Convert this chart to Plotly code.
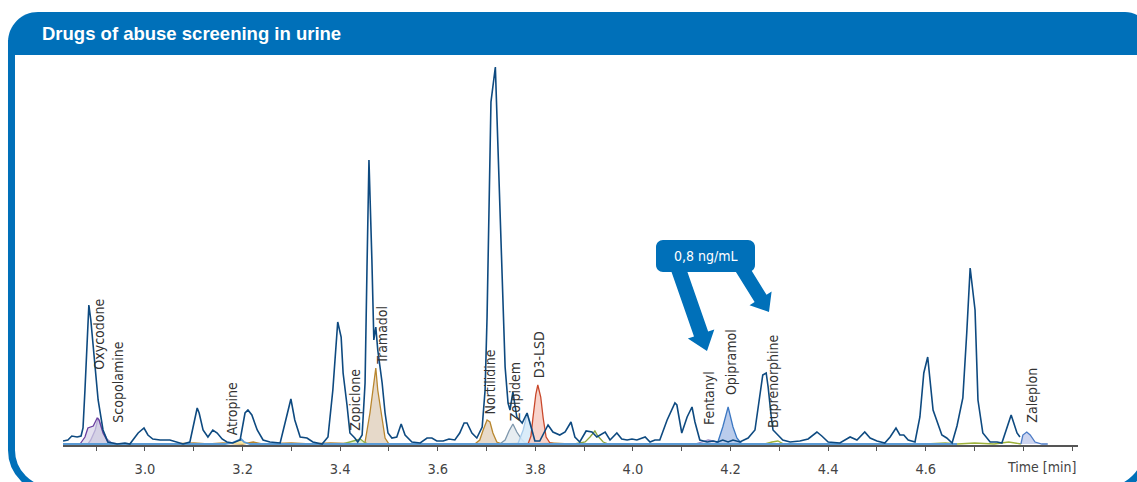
import math
import plotly.graph_objects as go

W, H = 1137, 482
BLUE = "#0070B9"
LABEL_FONT = "DejaVu Sans Condensed, Liberation Sans Narrow, sans-serif"

# ---------------- data (retention time [min], signal) ----------------
main_t = [2.832, 2.842, 2.850, 2.861, 2.869, 2.873, 2.877, 2.885, 2.889, 2.898,
          2.904, 2.914, 2.924, 2.943, 2.959, 2.969, 2.986, 2.998, 3.006, 3.016,
          3.031, 3.051, 3.066, 3.078, 3.092, 3.107, 3.111, 3.119, 3.129, 3.139,
          3.148, 3.158, 3.168, 3.180, 3.195, 3.205, 3.211, 3.219, 3.230, 3.242,
          3.256, 3.277, 3.287, 3.299, 3.307, 3.318, 3.332, 3.344, 3.363, 3.375,
          3.385, 3.395, 3.402, 3.406, 3.414, 3.420, 3.430, 3.436, 3.445, 3.451,
          3.455, 3.459, 3.465, 3.469, 3.473, 3.477, 3.486, 3.492, 3.498, 3.506,
          3.516, 3.525, 3.533, 3.547, 3.564, 3.578, 3.588, 3.598, 3.611, 3.623,
          3.635, 3.645, 3.654, 3.660, 3.670, 3.680, 3.691, 3.697, 3.701, 3.707,
          3.709, 3.718, 3.725, 3.732, 3.738, 3.744, 3.748, 3.754, 3.762, 3.773,
          3.783, 3.793, 3.799, 3.809, 3.826, 3.836, 3.850, 3.861, 3.873, 3.881,
          3.891, 3.904, 3.916, 3.926, 3.943, 3.953, 3.967, 3.977, 3.988, 3.998,
          4.008, 4.025, 4.035, 4.045, 4.055, 4.070, 4.086, 4.090, 4.100, 4.111,
          4.121, 4.127, 4.137, 4.152, 4.164, 4.174, 4.184, 4.195, 4.205, 4.219,
          4.236, 4.250, 4.260, 4.266, 4.273, 4.277, 4.283, 4.287, 4.297, 4.307,
          4.322, 4.342, 4.359, 4.377, 4.387, 4.400, 4.424, 4.445, 4.459, 4.475,
          4.486, 4.500, 4.516, 4.527, 4.539, 4.547, 4.555, 4.564, 4.578, 4.588,
          4.596, 4.604, 4.615, 4.633, 4.643, 4.654, 4.664, 4.676, 4.684, 4.691,
          4.701, 4.707, 4.717, 4.732, 4.746, 4.756, 4.775, 4.787, 4.793]
main_y = [3, 4, 8, 7, 8, 16, 54, 139, 124, 77,
          44, 14, 2, 0, 1, 0, 11, 16, 9, 5,
          4, 4, 2, 0, 2, 36, 31, 14, 7, 14,
          11, 5, 2, 1, 4, 31, 34, 29, 14, 4,
          2, 1, 21, 45, 24, 7, 6, 2, 0, 7,
          54, 122, 107, 71, 39, 11, 6, 2, 9, 61,
          177, 284, 184, 104, 117, 94, 61, 31, 11, 6,
          7, 20, 9, 2, 1, 6, 6, 3, 3, 5,
          4, 11, 21, 21, 11, 6, 17, 54, 127, 264,
          342, 377, 264, 161, 77, 41, 34, 52, 27, 21,
          31, 14, 3, 3, 19, 12, 9, 12, 22, 7,
          2, 13, 12, 7, 12, 4, 11, 5, 4, 5,
          4, 7, 2, 4, 4, 24, 41, 39, 11, 27,
          37, 22, 4, 2, 3, 2, 4, 2, 4, 2,
          6, 14, 47, 69, 71, 57, 29, 14, 9, 4,
          2, 3, 5, 12, 8, 2, 1, 7, 4, 12,
          6, 3, 1, 7, 16, 9, 9, 4, 2, 27,
          71, 87, 34, 9, 6, 1, 18, 46, 111, 176,
          134, 44, 11, 2, 2, 1, 29, 11, 7]

oxycodone_t = [2.867, 2.877, 2.883, 2.894, 2.902, 2.906, 2.914, 2.924, 2.932]
oxycodone_y = [0, 7, 16, 18, 26, 24, 11, 2, 0]
scopolamine_t = [2.883, 2.889, 2.898, 2.904, 2.912, 2.922, 2.932, 2.945]
scopolamine_y = [0, 4, 14, 26, 15, 5, 1, 0]
atropine_t = [2.830, 3.164, 3.178, 3.191, 3.197, 3.203, 3.215, 4.664]
atropine_y = [0, 0, 1, 4, 5, 2, 0, 0]
zopiclone_t = [3.405, 3.420, 3.430, 3.441, 3.449, 3.457]
zopiclone_y = [0, 2, 4, 5, 2, 0]
tramadol_t = [3.050, 3.100, 3.130, 3.160, 3.200, 3.222, 3.240, 3.300, 3.340, 3.380,
              3.445, 3.451, 3.461, 3.467, 3.473, 3.477, 3.486, 3.492, 3.500, 3.560]
tramadol_y = [0, 1, 0, 1, 0, 2, 0, 1, 0, 1, 0, 2, 31, 54, 76, 54, 27, 6, 0, 0]
nortilidine_t = [3.676, 3.686, 3.693, 3.701, 3.707, 3.713, 3.721, 3.732, 3.780, 3.800, 3.830, 3.870]
nortilidine_y = [0, 4, 14, 24, 22, 11, 2, 0, 1, 0, 1, 0]
zolpidem_t = [3.727, 3.738, 3.746, 3.754, 3.762, 3.773, 3.781]
zolpidem_y = [0, 4, 13, 20, 12, 4, 0]
unknown_blue_t = [3.764, 3.775, 3.783, 3.791, 3.799]
unknown_blue_y = [0, 14, 30, 19, 0]
lsd_t = [3.785, 3.791, 3.795, 3.801, 3.805, 3.811, 3.816, 3.822, 3.830, 3.840]
lsd_y = [0, 8, 26, 50, 59, 47, 26, 7, 1, 0]
unknown_olive_t = [3.880, 3.902, 3.912, 3.922, 3.928, 3.939, 3.950]
unknown_olive_y = [0, 2, 7, 13, 8, 2, 0]
fentanyl_t = [4.120, 4.127, 4.141, 4.154, 4.166, 4.178, 4.200]
fentanyl_y = [0, 0, 2, 4, 3, 0, 0]
opipramol_t = [4.168, 4.174, 4.184, 4.195, 4.205, 4.213, 4.223]
opipramol_y = [0, 2, 17, 37, 17, 6, 0]
buprenorphine_t = [4.250, 4.270, 4.285, 4.297, 4.309, 4.400, 4.600, 4.640, 4.665, 4.700, 4.740, 4.770, 4.795]
buprenorphine_y = [0, 0, 2, 3, 0, 0, 0, 1, 0, 1, 0, 2, 0]
zaleplon_t = [4.795, 4.799, 4.807, 4.814, 4.824, 4.838, 4.850]
zaleplon_y = [0, 9, 12, 9, 2, 0, 0]

label_names = ["Oxycodone", "Scopolamine", "Atropine", "Zopiclone", "Tramadol", "Nortilidine",
               "Zolpidem", "D3-LSD", "Fentanyl", "Opipramol", "Buprenorphine", "Zaleplon"]
label_t = [2.904, 2.943, 3.178, 3.430, 3.484, 3.705, 3.758, 3.807, 4.156, 4.201, 4.287, 4.816]
label_y = [72, 19, 7, 11, 77, 27, 21, 64, 17, 47, 14, 19]

tick_vals = [2.9, 3.0, 3.1, 3.2, 3.3, 3.4, 3.5, 3.6, 3.7, 3.8, 3.9, 4.0, 4.1, 4.2, 4.3, 4.4, 4.5, 4.6, 4.7, 4.8, 4.9]
tick_text = ["", "3.0", "", "3.2", "", "3.4", "", "3.6", "", "3.8", "", "4.0", "", "4.2", "", "4.4",
             "", "4.6", "", "", ""]

title_text = "Drugs of abuse screening in urine"
callout_text = "0,8 ng/mL"
axis_title = "Time [min]"

# ---------------- figure ----------------
fig = go.Figure()


def add_peak(t, y, line, fill=None, width=1.3):
    fig.add_trace(go.Scatter(
        x=t, y=y, mode="lines",
        line=dict(color=line, width=width, shape="linear"),
        fill="tozeroy" if fill else None, fillcolor=fill,
        hoverinfo="skip", showlegend=False))


add_peak(scopolamine_t, scopolamine_y, "#9A8CC6", "rgba(214,214,228,0.85)")
add_peak(oxycodone_t, oxycodone_y, "#6B3FA0", "rgba(205,200,225,0.55)")
add_peak(tramadol_t, tramadol_y, "#B8862E", "rgba(226,210,192,0.85)")
add_peak(nortilidine_t, nortilidine_y, "#B8862E", "rgba(228,212,192,0.85)")
add_peak(zopiclone_t, zopiclone_y, "#8DB04A", "rgba(220,236,200,0.8)")
add_peak(zolpidem_t, zolpidem_y, "#7E97AC", "rgba(225,232,238,0.8)")
add_peak(unknown_blue_t, unknown_blue_y, "#A8CBEA", "rgba(214,234,248,0.9)")
add_peak(lsd_t, lsd_y, "#C9482B", "rgba(247,205,195,0.85)")
add_peak(fentanyl_t, fentanyl_y, "#9487C4", "rgba(220,215,238,0.8)")
add_peak(opipramol_t, opipramol_y, "#3C78C3", "rgba(178,198,234,0.9)")
add_peak(buprenorphine_t, buprenorphine_y, "#9DB23A")
add_peak(unknown_olive_t, unknown_olive_y, "#8CA43C")
add_peak(zaleplon_t, zaleplon_y, "#4C7BC6", "rgba(200,208,238,0.9)")
add_peak(atropine_t, atropine_y, "#5B9BD5", "rgba(245,228,160,0.9)", width=1.8)
add_peak(main_t, main_y, "#0E4A80", None, width=1.6)

# compound labels
for name, t, y in zip(label_names, label_t, label_y):
    fig.add_annotation(x=t, y=y, xref="x", yref="y", text=name, textangle=-90,
                       showarrow=False, xanchor="center", yanchor="bottom",
                       font=dict(family=LABEL_FONT, size=14, color="#333333"))

# ---------------- layout helpers (pixel -> paper) ----------------
def px(x):
    return x / W


def py(y):
    return 1 - y / H


def P(x, y):
    return f"{px(x):.5f},{py(y):.5f}"


K = 0.5523
# frame
r = 40
frame_path = (f"M {P(11.5, 40)} L {P(11.5, 450)} "
              f"C {P(11.5, 450 + K * r)} {P(51.5 - K * r, 490)} {P(51.5, 490)} "
              f"L {P(1106.5, 490)} "
              f"C {P(1106.5 + K * r, 490)} {P(1146.5, 450 + K * r)} {P(1146.5, 450)} "
              f"L {P(1146.5, 40)}")
# header
header_path = (f"M {P(8, 55)} L {P(8, 42)} "
               f"C {P(8, 42 - 30 * K)} {P(38 - 30 * K, 12)} {P(38, 12)} "
               f"L {P(1125, 12)} "
               f"C {P(1125 + 25 * K, 12)} {P(1150, 37 - 25 * K)} {P(1150, 37)} "
               f"L {P(1150, 55)} Z")


def rounded_rect(x0, y0, x1, y1, rr):
    return (f"M {P(x0 + rr, y0)} L {P(x1 - rr, y0)} "
            f"C {P(x1 - rr + K * rr, y0)} {P(x1, y0 + rr - K * rr)} {P(x1, y0 + rr)} "
            f"L {P(x1, y1 - rr)} "
            f"C {P(x1, y1 - rr + K * rr)} {P(x1 - rr + K * rr, y1)} {P(x1 - rr, y1)} "
            f"L {P(x0 + rr, y1)} "
            f"C {P(x0 + rr - K * rr, y1)} {P(x0, y1 - rr + K * rr)} {P(x0, y1 - rr)} "
            f"L {P(x0, y0 + rr)} "
            f"C {P(x0, y0 + rr - K * rr)} {P(x0 + rr - K * rr, y0)} {P(x0 + rr, y0)} Z")


def arrow_path(sx, sy, tx, ty, hw, HW, hl):
    dx, dy = tx - sx, ty - sy
    n = math.hypot(dx, dy)
    ux, uy = dx / n, dy / n
    nx, ny = uy, -ux
    bx, by = tx - ux * hl, ty - uy * hl
    pts = [(sx + nx * hw, sy + ny * hw), (bx + nx * hw, by + ny * hw),
           (bx + nx * HW, by + ny * HW), (tx, ty),
           (bx - nx * HW, by - ny * HW), (bx - nx * hw, by - ny * hw),
           (sx - nx * hw, sy - ny * hw)]
    return "M " + " L ".join(P(a, b) for a, b in pts) + " Z"


shapes = [
    dict(type="path", xref="paper", yref="paper", path=frame_path,
         line=dict(color=BLUE, width=7), fillcolor="rgba(0,0,0,0)", layer="above"),
    dict(type="path", xref="paper", yref="paper", path=header_path,
         line=dict(width=0), fillcolor=BLUE, layer="above"),
    dict(type="path", xref="paper", yref="paper", path=arrow_path(676, 262, 707, 351, 7.5, 14, 18),
         line=dict(width=0), fillcolor=BLUE, layer="above"),
    dict(type="path", xref="paper", yref="paper", path=arrow_path(738, 262, 769, 312, 7, 13, 16),
         line=dict(width=0), fillcolor=BLUE, layer="above"),
    dict(type="path", xref="paper", yref="paper", path=rounded_rect(656, 240, 755, 272, 7),
         line=dict(width=0), fillcolor=BLUE, layer="above"),
]

annotations = [
    dict(x=px(40), y=py(33.5), xref="paper", yref="paper", text=title_text,
         showarrow=False, xanchor="left", yanchor="middle",
         font=dict(family="Liberation Sans, Arial, sans-serif", size=18.5, color="white", weight="bold")),
    dict(x=px(705.5), y=py(256), xref="paper", yref="paper", text=callout_text,
         showarrow=False, xanchor="center", yanchor="middle",
         font=dict(family=LABEL_FONT, size=14, color="white")),
    dict(x=4.838, y=py(467), xref="x", yref="paper", text=axis_title,
         showarrow=False, xanchor="center", yanchor="middle",
         font=dict(family=LABEL_FONT, size=14, color="#444444")),
]

for a in annotations:
    fig.add_annotation(**a)

fig.update_layout(
    width=W, height=H,
    margin=dict(l=0, r=0, t=0, b=0, pad=0),
    paper_bgcolor="white", plot_bgcolor="white",
    showlegend=False,
    shapes=shapes,
    xaxis=dict(domain=[63 / W, 1078 / W], range=[2.832, 4.912],
               showgrid=False, zeroline=False,
               showline=True, linecolor="#555555", linewidth=1.5,
               ticks="outside", ticklen=4, tickwidth=1.2, tickcolor="#555555",
               tickvals=tick_vals, ticktext=tick_text, ticklabelstandoff=6,
               tickfont=dict(family=LABEL_FONT, size=14.5, color="#444444"),
               layer="below traces", fixedrange=True),
    yaxis=dict(domain=[(H - 445) / H, (H - 60) / H], range=[-1, 384],
               visible=False, fixedrange=True),
)

fig.write_html(
    "out.html",
    config={"displayModeBar": False},
    post_script="document.body.style.margin='0';document.body.style.overflow='hidden';",
)
